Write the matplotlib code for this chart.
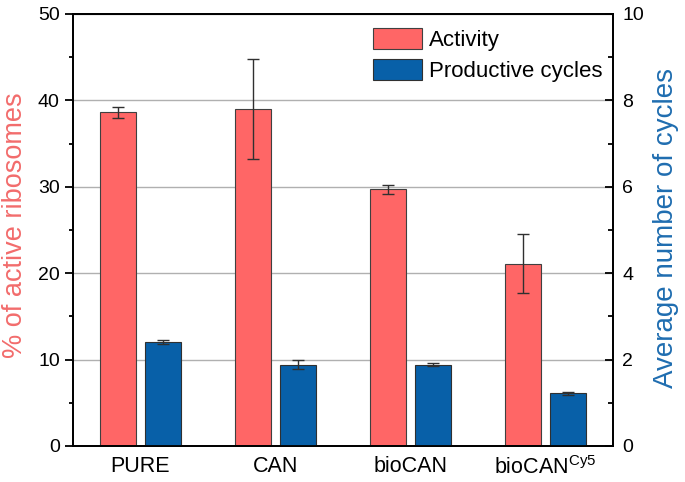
import numpy as np
import matplotlib
matplotlib.use("Agg")
from matplotlib import pyplot as plt

plt.rcParams['font.family'] = ['Liberation Sans', 'DejaVu Sans']
plt.rcParams['mathtext.fontset'] = 'custom'
plt.rcParams['mathtext.rm'] = 'Liberation Sans'

# data
samples = ['PURE', 'CAN', 'bioCAN', r'bioCAN$^{\mathrm{Cy5}}$']
activity = [38.6, 39.0, 29.7, 21.1]          # % of active ribosomes
activity_err = [0.6, 5.8, 0.5, 3.4]
cycles = [2.40, 1.88, 1.88, 1.22]            # average number of cycles
cycles_err = [0.05, 0.10, 0.03, 0.04]

red = '#FF6666'
blue = '#0860A8'

x = np.arange(len(samples))
w = 0.267
off = 0.167

fig = plt.figure(figsize=(6.85, 4.82), dpi=100)
ax = fig.add_axes([73/685, 1-446/482, (613-73)/685, (446-14)/482])
ax2 = ax.twinx()

ax.set_axisbelow(True)
ax.yaxis.grid(True, color='#b0b0b0', lw=1)
b1 = ax.bar(x - off, activity, w, color=red, edgecolor='#404040', lw=0.8,
            label='Activity', zorder=2)
ax.errorbar(x - off, activity, yerr=activity_err, fmt='none', ecolor='#303030',
            elinewidth=1, capsize=4, capthick=1, zorder=3)
b2 = ax2.bar(x + off, cycles, w, color=blue, edgecolor='#303030', lw=0.8,
             label='Productive cycles', zorder=2)
ax2.errorbar(x + off, cycles, yerr=cycles_err, fmt='none', ecolor='#303030',
             elinewidth=1, capsize=4, capthick=1, zorder=3)

ax.set_xlim(-0.5, 3.5)
ax.set_ylim(0, 50)
ax2.set_ylim(0, 10)
ax.set_yticks(np.arange(0, 51, 10))
ax.set_yticks(np.arange(5, 50, 10), minor=True)
ax2.set_yticks(np.arange(0, 11, 2))
ax2.set_yticks(np.arange(1, 10, 2), minor=True)
ax.set_xticks(x)
ax.set_xticklabels(samples)

for a in (ax, ax2):
    for s in a.spines.values():
        s.set_linewidth(1.3)
        s.set_color('black')
ax.tick_params(axis='y', direction='out', length=6, width=1.3, labelsize=14)
ax.tick_params(axis='y', which='minor', direction='out', length=3, width=1.3)
ax2.tick_params(axis='y', direction='in', length=6, width=1.3, labelsize=14, pad=6.5)
ax2.tick_params(axis='y', which='minor', direction='in', length=3.5, width=1.3)
ax.tick_params(axis='x', length=0, labelsize=15.5, pad=7)

ax.set_ylabel('% of active ribosomes', color='#F26C6C', fontsize=19.5)
ax2.set_ylabel('Average number of cycles', color='#1F6DB0', fontsize=20)
ax.yaxis.set_label_coords(-0.083, 0.51)
ax2.yaxis.set_label_coords(1.074, 0.505)

ax.legend([b1, b2], ['Activity', 'Productive cycles'], loc='upper left',
          bbox_to_anchor=(0.556, 0.968), borderpad=0, borderaxespad=0,
          frameon=False, fontsize=16,
          handlelength=2.2, handleheight=1.1, labelspacing=0.35, handletextpad=0.3)

fig.savefig('out.png', dpi=100)
